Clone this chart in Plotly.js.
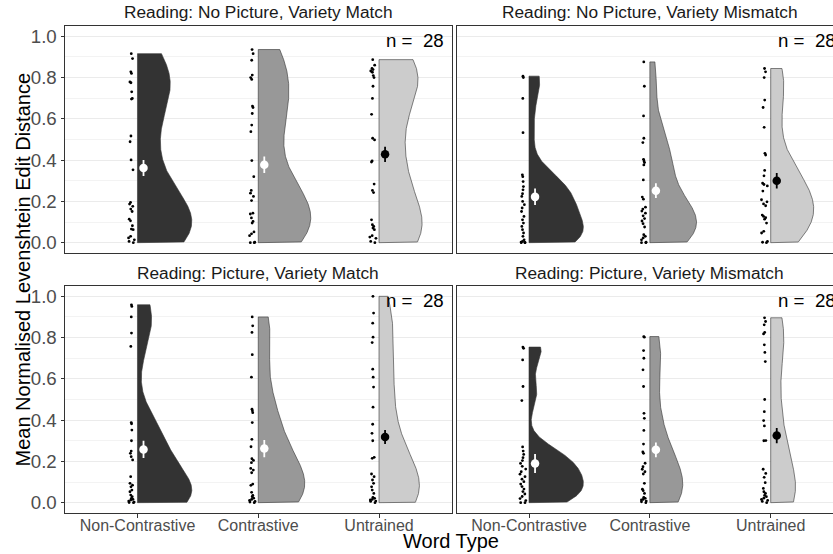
<!DOCTYPE html>
<html>
<head>
<meta charset="utf-8">
<script src="https://cdn.plot.ly/plotly-3.0.1.min.js"></script>
<style>
  html, body { margin: 0; padding: 0; overflow: hidden; background: #ffffff; }
  #chart { width: 846px; height: 554px; }
</style>
</head>
<body>
<div id="chart"></div>
<script>
// ---------------- DATA ----------------
const categories = ['Non-Contrastive', 'Contrastive', 'Untrained'];
const panelTitles = [
  'Reading: No Picture, Variety Match',
  'Reading: No Picture, Variety Mismatch',
  'Reading: Picture, Variety Match',
  'Reading: Picture, Variety Mismatch'
];
const nLabel = 'n =  28';
const yTickVals = [0, 0.2, 0.4, 0.6, 0.8, 1.0];

// Reading: No Picture, Variety Match
const noPicMatchNC = [0.916, 0.892, 0.828, 0.820, 0.779, 0.775, 0.731, 0.699, 0.696, 0.517, 0.489, 0.401, 0.353, 0.195, 0.187, 0.176, 0.163, 0.151, 0.114, 0.106, 0.082, 0.066, 0.063, 0.031, 0.023, 0.014, 0.006, 0.0];
const noPicMatchC  = [0.936, 0.916, 0.884, 0.812, 0.800, 0.791, 0.662, 0.655, 0.626, 0.570, 0.538, 0.398, 0.320, 0.253, 0.240, 0.224, 0.204, 0.143, 0.139, 0.120, 0.103, 0.095, 0.052, 0.043, 0.034, 0.002, 0.0, 0.0];
const noPicMatchU  = [0.887, 0.860, 0.844, 0.839, 0.832, 0.826, 0.810, 0.800, 0.758, 0.699, 0.622, 0.506, 0.498, 0.396, 0.391, 0.284, 0.253, 0.243, 0.111, 0.087, 0.079, 0.071, 0.063, 0.034, 0.027, 0.021, 0.006, 0.0];
const noPicMatchMeans = [0.362, 0.378, 0.428];
const noPicMatchErr   = [0.039, 0.040, 0.037];

// Reading: No Picture, Variety Mismatch
const noPicMismatchNC = [0.807, 0.800, 0.699, 0.533, 0.329, 0.320, 0.296, 0.272, 0.256, 0.237, 0.224, 0.200, 0.184, 0.168, 0.151, 0.127, 0.111, 0.095, 0.079, 0.063, 0.047, 0.031, 0.014, 0.006, 0.003, 0.001, 0.0, 0.0];
const noPicMismatchC  = [0.876, 0.758, 0.614, 0.506, 0.485, 0.404, 0.396, 0.388, 0.377, 0.304, 0.221, 0.211, 0.172, 0.163, 0.153, 0.143, 0.130, 0.117, 0.105, 0.092, 0.076, 0.039, 0.031, 0.023, 0.014, 0.002, 0.0, 0.0];
const noPicMismatchU  = [0.844, 0.828, 0.800, 0.691, 0.655, 0.559, 0.433, 0.425, 0.350, 0.324, 0.288, 0.282, 0.275, 0.250, 0.208, 0.198, 0.188, 0.179, 0.134, 0.127, 0.121, 0.114, 0.095, 0.055, 0.047, 0.006, 0.002, 0.0];
const noPicMismatchMeans = [0.222, 0.252, 0.300];
const noPicMismatchErr   = [0.040, 0.036, 0.038];

// Reading: Picture, Variety Match
const picMatchNC = [0.959, 0.951, 0.900, 0.822, 0.757, 0.388, 0.382, 0.352, 0.300, 0.250, 0.239, 0.223, 0.207, 0.126, 0.094, 0.085, 0.077, 0.061, 0.053, 0.037, 0.029, 0.021, 0.016, 0.013, 0.008, 0.003, 0.001, 0.0];
const picMatchC  = [0.900, 0.857, 0.825, 0.717, 0.608, 0.453, 0.445, 0.436, 0.388, 0.307, 0.271, 0.213, 0.205, 0.194, 0.166, 0.158, 0.145, 0.090, 0.084, 0.050, 0.035, 0.029, 0.022, 0.016, 0.011, 0.006, 0.003, 0.0];
const picMatchU  = [1.0, 0.919, 0.870, 0.802, 0.776, 0.647, 0.608, 0.560, 0.463, 0.380, 0.336, 0.300, 0.220, 0.215, 0.139, 0.126, 0.110, 0.094, 0.077, 0.061, 0.045, 0.026, 0.021, 0.016, 0.013, 0.008, 0.006, 0.0];
const picMatchMeans = [0.258, 0.262, 0.318];
const picMatchErr   = [0.042, 0.042, 0.034];

// Reading: Picture, Variety Mismatch
const picMismatchNC = [0.754, 0.748, 0.692, 0.563, 0.495, 0.270, 0.250, 0.234, 0.218, 0.204, 0.190, 0.176, 0.163, 0.150, 0.138, 0.126, 0.114, 0.102, 0.090, 0.078, 0.066, 0.054, 0.042, 0.030, 0.020, 0.010, 0.0, 0.0];
const picMismatchC  = [0.805, 0.802, 0.737, 0.700, 0.644, 0.563, 0.433, 0.409, 0.350, 0.284, 0.246, 0.239, 0.191, 0.174, 0.162, 0.150, 0.139, 0.094, 0.065, 0.058, 0.045, 0.026, 0.021, 0.016, 0.013, 0.008, 0.004, 0.0];
const picMismatchU  = [0.896, 0.878, 0.862, 0.825, 0.818, 0.765, 0.728, 0.684, 0.500, 0.441, 0.398, 0.372, 0.301, 0.300, 0.162, 0.142, 0.123, 0.097, 0.069, 0.053, 0.045, 0.035, 0.029, 0.022, 0.016, 0.011, 0.006, 0.0];
const picMismatchMeans = [0.190, 0.256, 0.325];
const picMismatchErr   = [0.046, 0.036, 0.037];

// ---------------- STYLE ----------------
const FONT = 'Liberation Sans, Arial, Helvetica, sans-serif';
const W = 846, H = 554;
const fills = ['#333333', '#989898', '#CCCCCC'];
const meanColors = ['#FFFFFF', '#FFFFFF', '#000000'];
const outline = '#333333';
const HALF = 0.45; // max half-violin width in category units

const panels = [
  { data: [noPicMatchNC, noPicMatchC, noPicMatchU], means: noPicMatchMeans, errs: noPicMatchErr },
  { data: [noPicMismatchNC, noPicMismatchC, noPicMismatchU], means: noPicMismatchMeans, errs: noPicMismatchErr },
  { data: [picMatchNC, picMatchC, picMatchU], means: picMatchMeans, errs: picMatchErr },
  { data: [picMismatchNC, picMismatchC, picMismatchU], means: picMismatchMeans, errs: picMismatchErr }
];

// pixel geometry of the panels
const colPx = [[65, 451.5], [456.5, 843.2]];
const rowPx = [[26, 253], [286, 513]];
const fx = p => p / W;
const fy = p => 1 - p / H;

// R's bw.nrd0 (ggplot default bandwidth)
function nrd0(x) {
  const n = x.length;
  const mean = x.reduce((a, b) => a + b, 0) / n;
  const sd = Math.sqrt(x.reduce((a, b) => a + (b - mean) * (b - mean), 0) / (n - 1));
  const s = x.slice().sort((a, b) => a - b);
  const q = p => { const h = (n - 1) * p; const lo = Math.floor(h); const hi = Math.min(lo + 1, n - 1); return s[lo] + (h - lo) * (s[hi] - s[lo]); };
  const iqr = q(0.75) - q(0.25);
  let lo = Math.min(sd, iqr / 1.34);
  if (!lo) lo = sd || Math.abs(s[0]) || 1;
  return 0.9 * lo * Math.pow(n, -0.2);
}
// gaussian KDE evaluated on the data range (trimmed violin)
function kde(vals, m) {
  const bw = nrd0(vals);
  const lo = Math.min(...vals), hi = Math.max(...vals);
  const t = [], d = [];
  const c = 1 / (vals.length * bw * Math.sqrt(2 * Math.PI));
  for (let k = 0; k < m; k++) {
    const y = lo + (hi - lo) * k / (m - 1);
    let s = 0;
    for (const v of vals) { const z = (y - v) / bw; s += Math.exp(-0.5 * z * z); }
    t.push(y); d.push(s * c);
  }
  return { t, d, lo, hi };
}

const traces = [];
const layout = {
  width: W, height: H,
  margin: { l: 0, r: 0, t: 0, b: 0, pad: 0 },
  paper_bgcolor: '#FFFFFF', plot_bgcolor: '#FFFFFF',
  font: { family: FONT, color: '#000000' },
  showlegend: false,
  violinmode: 'overlay', violingap: 0.1, violingroupgap: 0,
  annotations: []
};

panels.forEach((p, pi) => {
  const suf = pi ? String(pi + 1) : '';
  const xa = 'x' + suf, ya = 'y' + suf;
  const col = pi % 2, row = Math.floor(pi / 2);

  const dens = p.data.map(v => kde(v, 512));
  const pmax = Math.max(...dens.map(k => Math.max(...k.d)));

  p.data.forEach((vals, ci) => {
    // raw points (jittered by the library), no visible violin body
    traces.push({
      type: 'violin', x0: ci, y: vals, xaxis: xa, yaxis: ya, name: categories[ci],
      side: 'positive', spanmode: 'hard',
      fillcolor: 'rgba(0,0,0,0)', line: { color: 'rgba(0,0,0,0)', width: 0 },
      points: 'all', pointpos: -0.11, jitter: 0.07,
      marker: { size: 2.8, color: '#000000', line: { width: 0 } },
      box: { visible: false }, meanline: { visible: false },
      hoverinfo: 'skip', showlegend: false
    });
    // half violin (flat side at the category position)
    const k = dens[ci];
    const xs = [ci].concat(k.d.map(v => ci + HALF * v / pmax), [ci, ci]);
    const ys = [k.lo].concat(k.t, [k.hi, k.lo]);
    traces.push({
      type: 'scatter', mode: 'lines', xaxis: xa, yaxis: ya,
      x: xs, y: ys, fill: 'toself', fillcolor: fills[ci],
      line: { color: outline, width: 0.6 }, hoverinfo: 'skip', showlegend: false
    });
  });

  categories.forEach((c, ci) => {
    traces.push({
      type: 'scatter', mode: 'markers', xaxis: xa, yaxis: ya,
      x: [ci + 0.05], y: [p.means[ci]],
      error_y: { type: 'data', array: [p.errs[ci]], visible: true, color: meanColors[ci], thickness: 1.8, width: 0 },
      marker: { size: 8.5, color: meanColors[ci], line: { width: 0 } },
      hoverinfo: 'skip', showlegend: false, cliponaxis: false
    });
  });

  const isBottom = row === 1, isLeft = col === 0;
  layout['xaxis' + suf] = {
    domain: [fx(colPx[col][0]), fx(colPx[col][1])],
    anchor: ya, type: 'linear', range: [-0.6, 2.6],
    tickmode: 'array', tickvals: [0, 1, 2], ticktext: categories,
    showticklabels: isBottom, ticks: isBottom ? 'outside' : '', ticklen: 3.5, tickwidth: 1, tickcolor: outline,
    ticklabelstandoff: -6,
    tickfont: { family: FONT, size: 16, color: '#4D4D4D' },
    showgrid: false, zeroline: false,
    showline: true, mirror: true, linecolor: outline, linewidth: 1,
    fixedrange: true
  };
  layout['yaxis' + suf] = {
    domain: [fy(rowPx[row][1]), fy(rowPx[row][0])],
    anchor: xa, type: 'linear', range: [-0.05, 1.05],
    tickmode: 'array', tickvals: yTickVals, ticktext: yTickVals.map(v => v.toFixed(1)),
    showticklabels: isLeft, ticks: isLeft ? 'outside' : '', ticklen: 3.5, tickwidth: 1, tickcolor: outline,
    tickfont: { family: FONT, size: 18.7, color: '#4D4D4D' },
    showgrid: true, gridcolor: '#EBEBEB', gridwidth: 1,
    minor: { tickmode: 'linear', tick0: 0, dtick: 0.1, showgrid: true, gridcolor: '#EBEBEB', gridwidth: 0.6, ticks: '' },
    zeroline: false,
    showline: true, mirror: true, linecolor: outline, linewidth: 1,
    fixedrange: true
  };

  // facet strip title
  layout.annotations.push({
    xref: 'paper', yref: 'paper',
    x: fx((colPx[col][0] + colPx[col][1]) / 2), y: fy(row === 0 ? 12 : 273),
    xanchor: 'center', yanchor: 'middle', showarrow: false,
    text: panelTitles[pi], font: { family: FONT, size: 17.3, color: '#1A1A1A' }
  });
  // n label
  layout.annotations.push({
    xref: xa, yref: ya, x: 2.3, y: 0.98,
    xanchor: 'center', yanchor: 'middle', showarrow: false,
    text: nLabel, font: { family: FONT, size: 18.7, color: '#000000' }
  });
});

// axis titles
layout.annotations.push({
  xref: 'paper', yref: 'paper', x: fx(451), y: fy(541),
  xanchor: 'center', yanchor: 'middle', showarrow: false,
  text: 'Word Type', font: { family: FONT, size: 20, color: '#000000' }
});
layout.annotations.push({
  xref: 'paper', yref: 'paper', x: fx(22), y: fy(269.5),
  xanchor: 'center', yanchor: 'middle', showarrow: false, textangle: -90,
  text: 'Mean Normalised Levenshtein Edit Distance', font: { family: FONT, size: 20, color: '#000000' }
});

Plotly.newPlot('chart', traces, layout, { staticPlot: true, displayModeBar: false });
</script>
</body>
</html>
